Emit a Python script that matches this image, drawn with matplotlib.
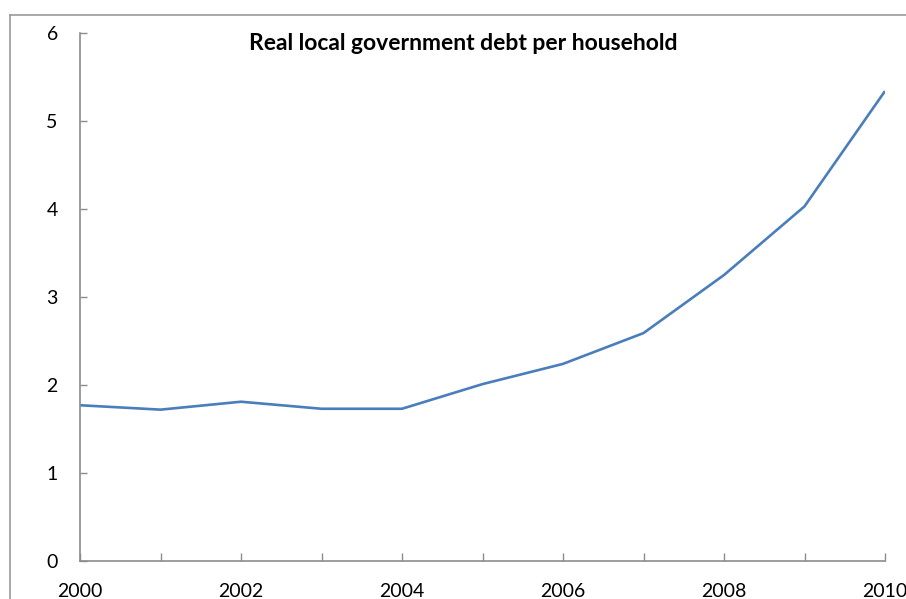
import matplotlib.pyplot as plt
from matplotlib.lines import Line2D

years = [2000, 2001, 2002, 2003, 2004, 2005, 2006, 2007, 2008, 2009, 2010]
debt = [1.77, 1.72, 1.81, 1.73, 1.73, 2.01, 2.24, 2.59, 3.25, 4.03, 5.34]
xticks = [2000, 2002, 2004, 2006, 2008, 2010]
yticks = [0, 1, 2, 3, 4, 5, 6]

plt.rcParams['font.family'] = ['Lato', 'DejaVu Sans']

fig = plt.figure(figsize=(9.06, 5.99), dpi=100)
ax = fig.add_axes([80/906, 1 - 561/599, 805/906, 528/599])

ax.plot(years, debt, color='#4A7EBB', linewidth=1.9, solid_capstyle='butt')

ax.set_xlim(2000, 2010)
ax.set_ylim(0, 6)
ax.set_xticks(years)
ax.set_xticklabels([str(y) if y in xticks else '' for y in years])
ax.set_yticks(yticks)

for s in ['top', 'right']:
    ax.spines[s].set_visible(False)
for s in ['left', 'bottom']:
    ax.spines[s].set_color('#8c8c8c')
    ax.spines[s].set_linewidth(1.2)

ax.tick_params(axis='x', direction='in', length=6, width=1, color='#8c8c8c',
               labelsize=14, pad=16)
ax.tick_params(axis='y', direction='in', length=5, width=1, color='#8c8c8c',
               labelsize=14, pad=16)

ax.text(0.476, 1.0, 'Real local government debt per household', transform=ax.transAxes,
        ha='center', va='top', fontsize=16.5, fontweight='bold')

# chart frame (cropped at right and bottom)
fig.add_artist(Line2D([10/906, 1], [1 - 15/599, 1 - 15/599], color='#9a9a9a', lw=1.2))
fig.add_artist(Line2D([10/906, 10/906], [0, 1 - 15/599], color='#9a9a9a', lw=1.2))

fig.savefig('out.png', dpi=100)
